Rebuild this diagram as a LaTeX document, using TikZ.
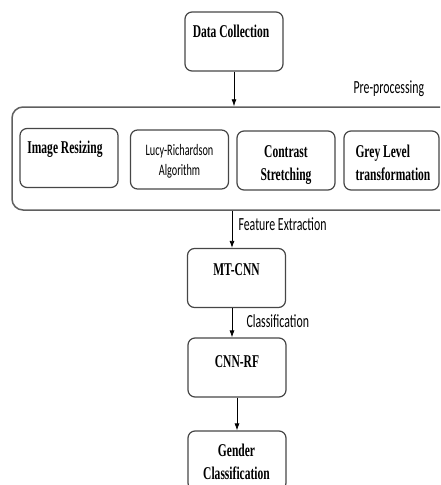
\documentclass[tikz,border=0pt]{standalone}
\usepackage{fontspec}
\usepackage{xcolor}
\usepackage{tikz}
\usetikzlibrary{arrows.meta}
\newfontfamily\boxfont[FakeStretch=0.64]{Liberation Serif}
\newfontfamily\tagfont[FakeStretch=0.64]{Carlito}
\definecolor{boxgray}{RGB}{70,70,70}
\definecolor{framegray}{RGB}{95,95,95}

\begin{document}
\begin{tikzpicture}[x=1pt, y=-1pt,
  box/.style={draw=boxgray, line width=1.2pt, rounded corners=7pt, inner sep=0pt, minimum width=98pt, minimum height=59pt},
  frame/.style={draw=framegray, line width=1.5pt, rounded corners=11pt, inner sep=0pt},
  boxtext/.style={anchor=base, align=center, font=\boxfont\bfseries\fontsize{18}{23}\selectfont},
  tag/.style={anchor=base west, font=\tagfont\fontsize{18.5}{22}\selectfont},
  arr/.style={-{Latex[length=7pt,width=5pt]}, line width=0.8pt}]
\useasboundingbox (0,0) rectangle (440,485);
\clip (0,0) rectangle (440,485);

% Data collection
\node[box] (data) at (234,41.5) {};
\node[boxtext] at (231,37) {Data Collection};

% Pre-processing frame
\node[frame, minimum width=460pt, minimum height=103pt] (prep) at (242,158.5) {};
\node[tag] at (350,93) {Pre-processing};

% Pre-processing steps (two-line texts sit on their last baseline)
\node[box] (resize) at (69,158) {};
\node[boxtext] at (65,153) {Image Resizing};
\node[box] (lucy) at (179.5,159.5) {};
\node[tag, anchor=base, align=center, font=\tagfont\fontsize{16}{20}\selectfont] at (179.5,175) {Lucy-Richardson\\Algorithm};
\node[box] (contrast) at (286,160.5) {};
\node[boxtext] at (286,180) {Contrast\\Stretching};
\node[box, minimum width=95pt] (grey) at (391.5,160.5) {};
\node[boxtext, align=left, anchor=base west] at (352,180) {Grey Level\\transformation};

% Feature extraction and classification
\node[box] (mtcnn) at (236.5,278) {};
\node[boxtext] at (236.5,275) {MT-CNN};
\node[box] (cnnrf) at (237,367.5) {};
\node[boxtext] at (237,367) {CNN-RF};
\node[box] (gender) at (237,460.5) {};
\node[boxtext] at (236.5,479) {Gender\\Classification};

\node[tag] at (235,230) {Feature Extraction};
\node[tag] at (243,327) {Classification};

% Arrows
\coordinate (spine) at (232,0);
\draw[arr] (data.south) -- (data.south |- prep.north);
\draw[arr] (spine |- prep.south) -- (spine |- mtcnn.north);
\draw[arr] (spine |- mtcnn.south) -- (spine |- cnnrf.north);
\draw[arr] (cnnrf.south) -- (gender.north);
\end{tikzpicture}
\end{document}
